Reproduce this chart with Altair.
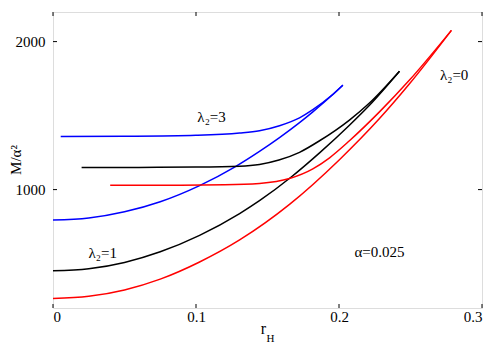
import altair as alt
import pandas as pd

# lambda2 = 3 (blue)
blue_lower_r = [0, 0.025, 0.05, 0.075, 0.1025, 0.127, 0.1444, 0.1584, 0.1724, 0.1817, 0.1945, 0.2027]
blue_lower_m = [794, 808, 850, 918, 1027, 1152, 1258, 1351, 1452, 1525, 1632, 1706]
blue_upper_r = [0.0054, 0.05, 0.1, 0.1305, 0.1444, 0.1584, 0.1724, 0.1817, 0.1945, 0.2027]
blue_upper_m = [1358, 1360, 1367, 1382, 1398, 1432, 1485, 1540, 1634, 1706]

# lambda2 = 1 (black)
black_lower_r = [0, 0.025, 0.05, 0.075, 0.1025, 0.1305, 0.1444, 0.1666, 0.1864, 0.2073, 0.2213, 0.2423]
black_lower_m = [451, 465, 508, 580, 691, 838, 925, 1085, 1248, 1435, 1570, 1800]
black_upper_r = [0.02, 0.06, 0.1, 0.1305, 0.1444, 0.158, 0.1724, 0.1864, 0.2073, 0.2213, 0.2423]
black_upper_m = [1150, 1150, 1152, 1158, 1170, 1200, 1252, 1330, 1470, 1585, 1800]

# lambda2 = 0 (red)
red_lower_r = [0, 0.025, 0.05, 0.075, 0.1025, 0.1305, 0.1654, 0.2003, 0.2283, 0.2493, 0.2786]
red_lower_m = [265, 279, 322, 395, 511, 660, 900, 1202, 1480, 1715, 2076]
red_upper_r = [0.04, 0.08, 0.12, 0.1444, 0.1654, 0.1817, 0.1934, 0.2073, 0.2283, 0.2493, 0.2786]
red_upper_m = [1030, 1030, 1033, 1042, 1075, 1140, 1215, 1330, 1525, 1740, 2076]

x_ticks = [0, 0.1, 0.2, 0.3]
y_ticks = [1000, 2000]

ann_text = ["λ₂=3", "λ₂=1", "λ₂=0", "α=0.025"]
ann_r = [0.1109, 0.0348, 0.2805, 0.2283]
ann_m = [1491, 570, 1773, 576]

W, H = 429, 296
FONT = "Liberation Serif, Times New Roman, serif"

rows = []
for fam, branches in [
    ("3", [("lo", blue_lower_r, blue_lower_m), ("up", blue_upper_r, blue_upper_m)]),
    ("1", [("lo", black_lower_r, black_lower_m), ("up", black_upper_r, black_upper_m)]),
    ("0", [("lo", red_lower_r, red_lower_m), ("up", red_upper_r, red_upper_m)]),
]:
    for br, rs, ms in branches:
        for i, (r, m) in enumerate(zip(rs, ms)):
            rows.append({"fam": fam, "branch": fam + br, "r": r, "M": m, "i": i})
df = pd.DataFrame(rows)

xscale = alt.Scale(domain=[0, 0.3], nice=False, zero=False)
yscale = alt.Scale(domain=[200, 2200], nice=False, zero=False)

lines = alt.Chart(df).mark_line(strokeWidth=1.5, interpolate="monotone", clip=True).encode(
    x=alt.X("r:Q", scale=xscale,
            axis=alt.Axis(values=x_ticks, format="~g", title=None, ticks=False, domain=False,
                          grid=False, labelFont=FONT, labelFontSize=15, labelColor="black",
                          labelPadding=1)),
    y=alt.Y("M:Q", scale=yscale,
            axis=alt.Axis(values=y_ticks, format="d", title=None, ticks=False, domain=False,
                          grid=False, labelFont=FONT, labelFontSize=15, labelColor="black",
                          labelPadding=8)),
    color=alt.Color("fam:N", scale=alt.Scale(domain=["3", "1", "0"],
                                             range=["#0000ff", "#000000", "#ff0000"]), legend=None),
    detail="branch:N",
    order="i:Q",
)

xt = pd.DataFrame({"v": x_ticks})
yt = pd.DataFrame({"v": y_ticks})
tick_bot = alt.Chart(xt).mark_rule(color="black", strokeWidth=1).encode(
    x=alt.X("v:Q", scale=xscale), y=alt.value(H), y2=alt.value(H - 4))
tick_top = alt.Chart(xt).mark_rule(color="black", strokeWidth=1).encode(
    x=alt.X("v:Q", scale=xscale), y=alt.value(0), y2=alt.value(4))
tick_left = alt.Chart(yt).mark_rule(color="black", strokeWidth=1).encode(
    y=alt.Y("v:Q", scale=yscale), x=alt.value(0), x2=alt.value(4))
tick_right = alt.Chart(yt).mark_rule(color="black", strokeWidth=1).encode(
    y=alt.Y("v:Q", scale=yscale), x=alt.value(W), x2=alt.value(W - 4))

ann = alt.Chart(pd.DataFrame({"t": ann_text, "r": ann_r, "M": ann_m})).mark_text(
    font=FONT, fontSize=15, color="black", align="center", baseline="middle").encode(
    x=alt.X("r:Q", scale=xscale), y=alt.Y("M:Q", scale=yscale), text="t:N")

xtitle_r = alt.Chart(pd.DataFrame({"t": ["r"]})).mark_text(
    font=FONT, fontSize=16, color="black", align="center", baseline="alphabetic").encode(
    x=alt.value(210.5), y=alt.value(321.5), text="t:N")
xtitle_h = alt.Chart(pd.DataFrame({"t": ["H"]})).mark_text(
    font=FONT, fontSize=11, color="black", align="left", baseline="alphabetic").encode(
    x=alt.value(213.5), y=alt.value(329.5), text="t:N")
ytitle = alt.Chart(pd.DataFrame({"t": ["M/α²"]})).mark_text(
    font=FONT, fontSize=15, color="black", align="center", baseline="middle", angle=270).encode(
    x=alt.value(-37), y=alt.value(148), text="t:N")

chart = alt.layer(lines, tick_bot, tick_top, tick_left, tick_right, ann,
                  xtitle_r, xtitle_h, ytitle).properties(
    width=W, height=H,
    autosize=alt.AutoSizeParams(type="none"),
    padding={"left": 45, "top": 4, "right": 10, "bottom": 38},
).configure_view(stroke="black", strokeWidth=1).configure(background="white")

chart.save("out.html", embed_options={"renderer": "svg", "actions": False})
